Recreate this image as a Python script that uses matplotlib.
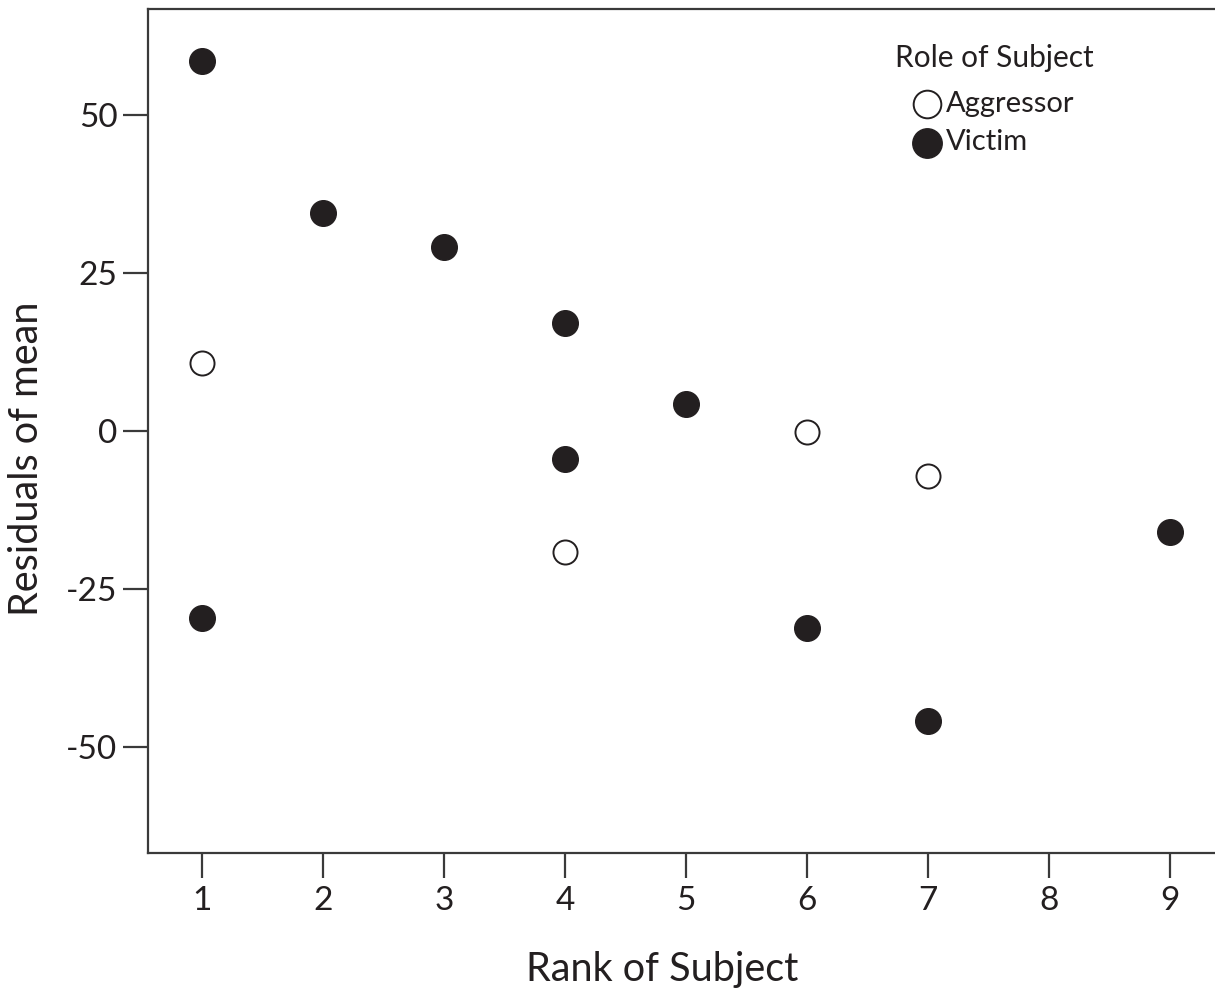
import numpy as np
import matplotlib
matplotlib.use("Agg")
from matplotlib import pyplot as plt

# donnees
rang_victime = [1, 2, 3, 4, 4, 5, 1, 6, 7, 9]
resid_victime = [58.5, 34.5, 29.1, 17.1, -4.5, 4.2, -29.6, -31.2, -45.9, -16.0]

rang_agresseur = [1, 4, 6, 7]
resid_agresseur = [10.8, -19.1, -0.2, -7.1]

ticks_x = [1, 2, 3, 4, 5, 6, 7, 8, 9]
ticks_y = [-50, -25, 0, 25, 50]

NOIR = '#231f20'
GRIS = '#3a3a3a'

plt.rcParams['font.family'] = ['Lato', 'DejaVu Sans']

fig = plt.figure(figsize=(12.15, 9.89), dpi=100)
ax = fig.add_axes([148/1215, 1-853/989, 1-148/1215, (853-9)/989])

ax.scatter(rang_agresseur, resid_agresseur, s=300, facecolors='white',
           edgecolors=NOIR, linewidths=1.4, label='Aggressor', zorder=3)
ax.scatter(rang_victime, resid_victime, s=340, facecolors=NOIR,
           edgecolors=NOIR, linewidths=1.0, label='Victim', zorder=3)

ax.set_xlim(0.554, 9.372)
ax.set_ylim(-66.8, 66.8)
ax.set_xticks(ticks_x)
ax.set_yticks(ticks_y)
ax.set_yticklabels([str(v) for v in ticks_y])

for cote in ['left', 'top', 'bottom']:
    ax.spines[cote].set_color(GRIS)
    ax.spines[cote].set_linewidth(1.6)
ax.spines['right'].set_visible(False)

ax.tick_params(axis='both', direction='out', length=18, width=1.6,
               color=GRIS, labelsize=24, labelcolor=NOIR)
ax.tick_params(axis='x', pad=6)
ax.tick_params(axis='y', pad=4)

fig.text(662/1215, 1-969/989, 'Rank of Subject', fontsize=28.5,
         color=NOIR, ha='center', va='center')
fig.text(27/1215, 1-459/989, 'Residuals of mean', fontsize=28.5,
         color=NOIR, ha='center', va='center', rotation=90)

leg = ax.legend(title='Role of Subject', loc='upper center',
                bbox_to_anchor=(994/1215, 1-29/989),
                bbox_transform=fig.transFigure, frameon=False,
                fontsize=21, title_fontsize=21.5, handlelength=0.9,
                handletextpad=0.2, labelspacing=0.42, borderpad=0,
                markerscale=1.15)
leg.get_title().set_color(NOIR)
leg._legend_box.sep = 14
for t in leg.get_texts():
    t.set_color(NOIR)

fig.savefig('out.png', dpi=100, facecolor='white')
